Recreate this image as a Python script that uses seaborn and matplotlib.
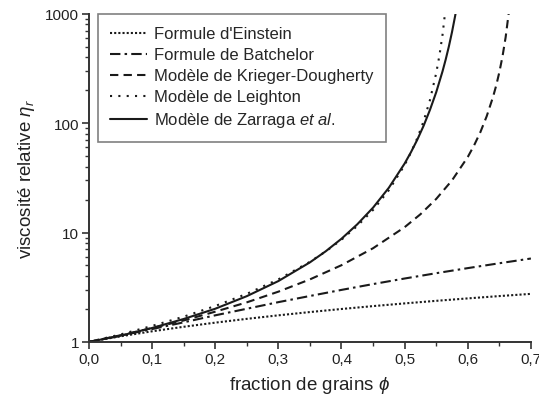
import numpy as np
import pandas as pd
import matplotlib
matplotlib.use("Agg")
import matplotlib.pyplot as plt
import matplotlib.ticker as mticker
import seaborn as sns

# ---- data ----
phi_einstein = [0.0, 0.05, 0.1, 0.15, 0.2, 0.25, 0.3, 0.35, 0.4, 0.45, 0.5, 0.55, 0.6, 0.65, 0.7]
eta_einstein = [1.0, 1.125, 1.25, 1.375, 1.5, 1.625, 1.75, 1.875, 2.0, 2.125, 2.25, 2.375, 2.5, 2.625, 2.75]

phi_batchelor = [0.0, 0.05, 0.1, 0.15, 0.2, 0.25, 0.3, 0.35, 0.4, 0.45, 0.5, 0.55, 0.6, 0.65, 0.7]
eta_batchelor = [1.0, 1.14, 1.31, 1.51, 1.75, 2.01, 2.31, 2.63, 2.99, 3.38, 3.80, 4.25, 4.73, 5.24, 5.79]

phi_krieger = [0.0, 0.05, 0.1, 0.15, 0.2, 0.25, 0.3, 0.35, 0.4, 0.45, 0.5, 0.525, 0.55, 0.575,
               0.6, 0.61, 0.62, 0.63, 0.64, 0.645, 0.65, 0.655, 0.66, 0.665]
eta_krieger = [1.0, 1.15, 1.34, 1.57, 1.89, 2.30, 2.88, 3.73, 5.03, 7.19, 11.2, 14.7, 20.3, 30.0,
               49.1, 62.7, 83.0, 116, 174, 221, 293, 408, 613, 1035]

phi_leighton = [0.0, 0.05, 0.1, 0.15, 0.2, 0.25, 0.3, 0.35, 0.375, 0.4, 0.425, 0.45, 0.475, 0.5,
                0.51, 0.52, 0.53, 0.54, 0.55, 0.555, 0.56, 0.565]
eta_leighton = [1.0, 1.17, 1.40, 1.70, 2.13, 2.75, 3.73, 5.40, 6.72, 8.60, 11.5, 16.1, 24.4, 41.4,
                53.9, 72.9, 104, 162, 287, 413, 643, 1141]

phi_zarraga = [0.0, 0.05, 0.1, 0.15, 0.2, 0.25, 0.3, 0.35, 0.375, 0.4, 0.425, 0.45, 0.475, 0.5,
               0.51, 0.52, 0.53, 0.54, 0.55, 0.56, 0.565, 0.57, 0.575, 0.58, 0.581]
eta_zarraga = [1.0, 1.14, 1.34, 1.62, 2.01, 2.62, 3.60, 5.34, 6.74, 8.78, 11.9, 16.9, 25.7, 42.8,
               54.3, 70.6, 94.6, 132, 192, 298, 382, 502, 681, 958, 1032]

labels = ["Formule d'Einstein", "Formule de Batchelor", "Modèle de Krieger-Dougherty",
          "Modèle de Leighton", r"Modèle de Zarraga $\mathit{et\ al.}$"]
x_ticks = [0.0, 0.1, 0.2, 0.3, 0.4, 0.5, 0.6, 0.7]
y_ticks = [1, 10, 100, 1000]

# ---- style ----
sns.set_style("ticks")
plt.rcParams["font.family"] = ["Liberation Sans", "DejaVu Sans"]
plt.rcParams["mathtext.fontset"] = "custom"
plt.rcParams["mathtext.rm"] = "Liberation Sans"
plt.rcParams["mathtext.it"] = "Liberation Sans:italic"

fig = plt.figure(figsize=(5.39, 4.02), dpi=100)
ax = fig.add_axes([0.165, 0.147, 0.82, 0.816])

series = [
    (phi_einstein, eta_einstein, (0, (1.0, 1.0))),
    (phi_batchelor, eta_batchelor, (0, (5.0, 2.0, 1.2, 2.0))),
    (phi_krieger, eta_krieger, (0, (4.0, 2.5))),
    (phi_leighton, eta_leighton, (0, (1.0, 3.0))),
    (phi_zarraga, eta_zarraga, "-"),
]
for (xs, ys, ls), lab in zip(series, labels):
    df = pd.DataFrame({"phi": xs, "eta": ys})
    sns.lineplot(data=df, x="phi", y="eta", ax=ax, color="#1a1a1a", linestyle=ls,
                 linewidth=1.5, label=lab, sort=False, estimator=None)

ax.set_yscale("log")
ax.set_xlim(0, 0.7)
ax.set_ylim(1, 1000)
ax.set_xticks(x_ticks)
ax.xaxis.set_minor_locator(mticker.MultipleLocator(0.05))
ax.xaxis.set_major_formatter(mticker.FuncFormatter(lambda v, p: f"{v:.1f}".replace(".", ",")))
ax.set_yticks(y_ticks)
ax.yaxis.set_major_formatter(mticker.FuncFormatter(lambda v, p: f"{v:g}"))
ax.yaxis.set_minor_locator(mticker.LogLocator(base=10, subs=np.arange(2, 10)))
ax.yaxis.set_minor_formatter(mticker.NullFormatter())

for s in ["top", "right"]:
    ax.spines[s].set_visible(False)
for s in ["left", "bottom"]:
    ax.spines[s].set_color("#333333")
    ax.spines[s].set_linewidth(1.4)
ax.tick_params(which="major", direction="out", length=5, width=1.2, color="#333333",
               labelsize=11, labelcolor="#222222", pad=2)
ax.tick_params(which="minor", direction="out", length=3, width=1.0, color="#333333")

ax.set_xlabel(r"fraction de grains $\phi$", fontsize=13.5, color="#222222", labelpad=6)
ax.set_ylabel(r"viscosité relative $\eta_r$", fontsize=13.5, color="#222222", labelpad=6)

leg = ax.legend(loc="upper left", bbox_to_anchor=(0.02, 1.0), borderaxespad=0.0,
                fontsize=12, frameon=True, fancybox=False, handlelength=2.2,
                labelspacing=0.36, handletextpad=0.4, borderpad=0.75)
leg.get_frame().set_edgecolor("#808080")
leg.get_frame().set_linewidth(1.2)
leg.get_frame().set_alpha(1)

fig.savefig("out.png", dpi=100)
